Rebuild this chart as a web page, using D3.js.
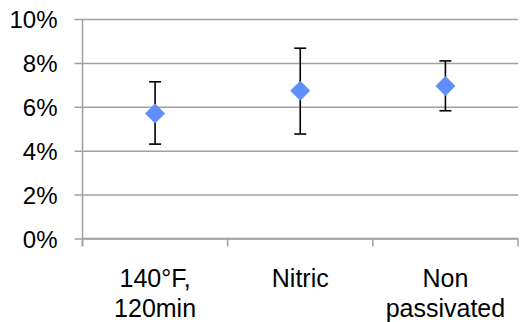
<!DOCTYPE html>
<html><head><meta charset="utf-8">
<script src="https://cdn.jsdelivr.net/npm/d3@7"></script>
<style>html,body{margin:0;padding:0;background:#fff;}svg{display:block;}</style>
</head><body>
<script>
const categories = [["140°F,", "120min"], ["Nitric"], ["Non", "passivated"]];
const values = [0.0570, 0.0673, 0.0695];
const errHigh = [0.0714, 0.0867, 0.0809];
const errLow = [0.0430, 0.0476, 0.0582];
const yTicks = [0, 0.02, 0.04, 0.06, 0.08, 0.10];

const W = 529, H = 322;
const m = {left: 82.5, right: 11, top: 19, bottom: 83.5};
const svg = d3.select("body").append("svg").attr("width", W).attr("height", H);
const x = d3.scaleBand().domain(d3.range(categories.length)).range([m.left, W - m.right]);
const y = d3.scaleLinear().domain([0, 0.10]).range([H - m.bottom, m.top]);
const font = "'Liberation Sans', Arial, sans-serif";
const grid = "#a0a0a0";

// gridlines + y axis ticks
const yAxis = d3.axisLeft(y).tickValues(yTicks).tickFormat(d3.format(".0%"))
  .tickSize(-(W - m.right - m.left)).tickPadding(25);
const gy = svg.append("g").attr("transform", `translate(${m.left},0)`).call(yAxis);
gy.select(".domain").remove();
gy.selectAll(".tick line").attr("stroke", grid).attr("stroke-width", 1.5).attr("x1", -8);
gy.selectAll(".tick text").attr("font-family", font).attr("font-size", 24).attr("fill", "#000").attr("dy", "0.36em");

// y axis line
svg.append("line").attr("x1", m.left).attr("x2", m.left)
  .attr("y1", y(0.10)).attr("y2", y(0) + 8).attr("stroke", grid).attr("stroke-width", 1.5);

// x axis line + boundary ticks
svg.append("line").attr("x1", m.left).attr("x2", W - m.right)
  .attr("y1", y(0)).attr("y2", y(0)).attr("stroke", grid).attr("stroke-width", 1.5);
const bounds = d3.range(categories.length + 1).map(i => i < categories.length ? x(i) : x(i - 1) + x.bandwidth());
svg.selectAll(".bt").data(bounds).enter().append("line")
  .attr("x1", d => d).attr("x2", d => d).attr("y1", y(0)).attr("y2", y(0) + 8)
  .attr("stroke", grid).attr("stroke-width", 1.5);

// category labels
const lab = svg.selectAll(".cl").data(categories).enter().append("text")
  .attr("x", (d, i) => x(i) + x.bandwidth() / 2).attr("y", 286.5)
  .attr("text-anchor", "middle").attr("font-family", font).attr("font-size", 25).attr("fill", "#000");
lab.selectAll("tspan").data(d => d).enter().append("tspan")
  .attr("x", function () { return this.parentNode.getAttribute("x"); })
  .attr("dy", (d, i) => i === 0 ? 0 : 30).text(d => d);

// error bars
const cx = i => x(i) + x.bandwidth() / 2;
const eb = svg.selectAll(".eb").data(values).enter().append("g");
eb.append("line").attr("x1", (d, i) => cx(i)).attr("x2", (d, i) => cx(i))
  .attr("y1", (d, i) => y(errHigh[i])).attr("y2", (d, i) => y(errLow[i])).attr("stroke", "#000").attr("stroke-width", 1.6);
eb.append("line").attr("x1", (d, i) => cx(i) - 6).attr("x2", (d, i) => cx(i) + 6)
  .attr("y1", (d, i) => y(errHigh[i])).attr("y2", (d, i) => y(errHigh[i])).attr("stroke", "#000").attr("stroke-width", 1.6);
eb.append("line").attr("x1", (d, i) => cx(i) - 6).attr("x2", (d, i) => cx(i) + 6)
  .attr("y1", (d, i) => y(errLow[i])).attr("y2", (d, i) => y(errLow[i])).attr("stroke", "#000").attr("stroke-width", 1.6);

// diamonds
svg.selectAll(".pt").data(values).enter().append("path")
  .attr("d", (d, i) => { const px = cx(i), py = y(d), r = 10; return `M${px},${py - r}L${px + r},${py}L${px},${py + r}L${px - r},${py}Z`; })
  .attr("fill", "#5f8ffa");
</script>
</body></html>
